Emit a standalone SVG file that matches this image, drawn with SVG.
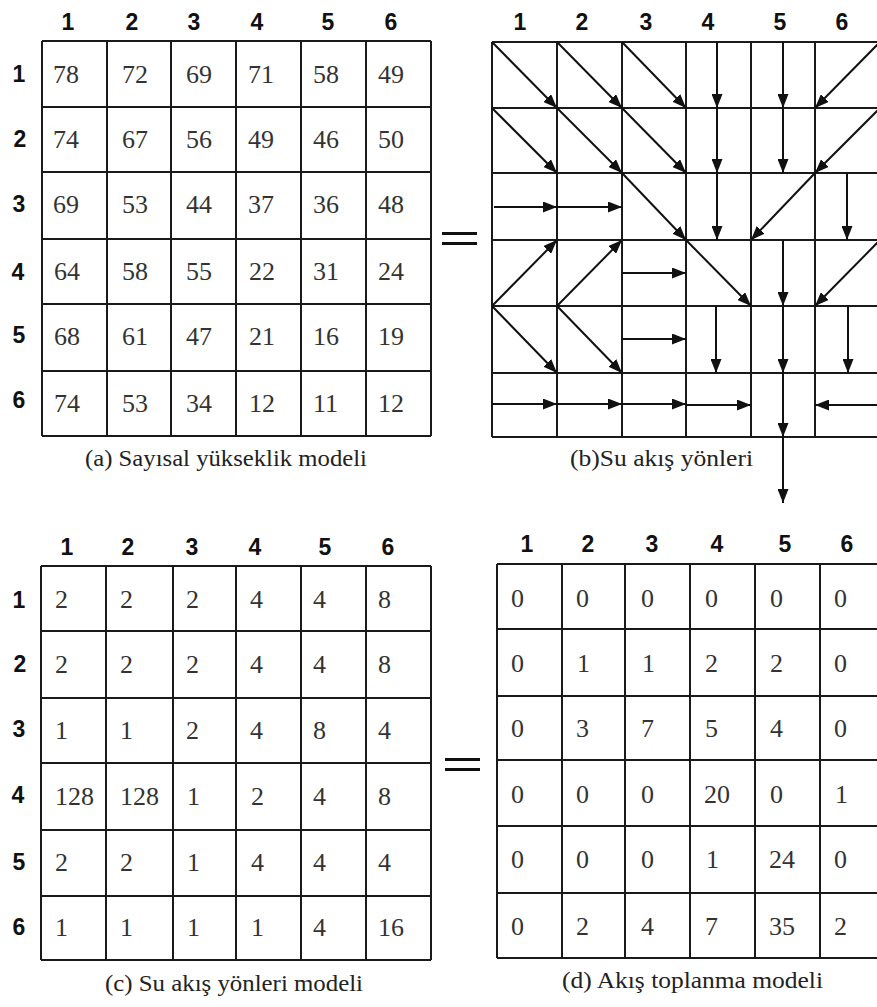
<svg xmlns="http://www.w3.org/2000/svg" width="877" height="1007" viewBox="0 0 877 1007">
<style>
.grid{fill:none;stroke:#1a1a1a;stroke-width:2}
.hdr{font-family:"Liberation Sans",Arial,sans-serif;font-weight:bold;font-size:23px;fill:#111;text-anchor:middle}
.num{font-family:"Liberation Serif","Times New Roman",serif;font-size:26px;fill:#333}
.cap{font-family:"Liberation Serif","Times New Roman",serif;font-size:23px;fill:#222}
.arr{stroke:#111;stroke-width:2;fill:none;marker-end:url(#ah)}
.eq{fill:#111}
</style>
<defs>
<marker id="ah" viewBox="0 0 14 11" refX="14" refY="5.5" markerWidth="14" markerHeight="11" markerUnits="userSpaceOnUse" orient="auto">
<path d="M0,0 L14,5.5 L0,11 z" fill="#111"/>
</marker>
</defs>
<rect width="877" height="1007" fill="#fff"/>

<!-- Panel (a) -->
<g id="panel-a">
<g class="hdr">
<text x="68" y="30">1</text><text x="132" y="30">2</text><text x="194" y="30">3</text><text x="257" y="30">4</text><text x="328" y="30">5</text><text x="391" y="30">6</text>
<text x="19" y="82">1</text><text x="20" y="147">2</text><text x="19" y="212">3</text><text x="18" y="280">4</text><text x="19" y="343">5</text><text x="19" y="408">6</text>
</g>
<path class="grid" d="M42,41H431M42,107H431M42,172H431M42,239H431M42,304H431M42,371H431M42,436H431M42,41V436M107,41V436M171,41V436M236,41V436M301,41V436M366,41V436M431,41V436"/>
<g class="num">
<text x="53" y="83">78</text><text x="122" y="83">72</text><text x="186" y="83">69</text><text x="248" y="83">71</text><text x="313" y="83">58</text><text x="378" y="83">49</text>
<text x="53" y="148">74</text><text x="122" y="148">67</text><text x="186" y="148">56</text><text x="248" y="148">49</text><text x="313" y="148">46</text><text x="378" y="148">50</text>
<text x="53" y="213">69</text><text x="122" y="213">53</text><text x="186" y="213">44</text><text x="248" y="213">37</text><text x="313" y="213">36</text><text x="378" y="213">48</text>
<text x="54" y="280">64</text><text x="122" y="280">58</text><text x="186" y="280">55</text><text x="249" y="280">22</text><text x="313" y="280">31</text><text x="378" y="280">24</text>
<text x="54" y="345">68</text><text x="122" y="345">61</text><text x="186" y="345">47</text><text x="249" y="345">21</text><text x="313" y="345">16</text><text x="378" y="345">19</text>
<text x="54" y="412">74</text><text x="122" y="412">53</text><text x="186" y="412">34</text><text x="249" y="412">12</text><text x="313" y="412">11</text><text x="378" y="412">12</text>
</g>
<text class="cap" x="85" y="466" textLength="282" lengthAdjust="spacingAndGlyphs">(a) Sayısal yükseklik modeli</text>
</g>

<g id="equals-top">
<rect class="eq" x="442" y="232" width="35" height="3"/>
<rect class="eq" x="442" y="242" width="35" height="3"/>
</g>

<!-- Panel (b) -->
<g id="panel-b">
<g class="hdr">
<text x="520" y="30">1</text><text x="582" y="30">2</text><text x="646" y="30">3</text><text x="708" y="30">4</text><text x="780" y="30">5</text><text x="842" y="30">6</text>
</g>
<path class="grid" d="M492,42H880M492,108H880M492,173H880M492,240H880M492,306H880M492,373H880M492,437H880M492,42V437M557,42V437M622,42V437M686,42V437M751,42V437M815,42V437M880,42V437"/>
<text class="cap" x="570" y="466" textLength="183" lengthAdjust="spacingAndGlyphs">(b)Su akış yönleri</text>
</g>

<g id="connectors">
<!-- row 1 -->
<line class="arr" x1="492" y1="42" x2="557" y2="108"/>
<line class="arr" x1="557" y1="42" x2="622" y2="108"/>
<line class="arr" x1="622" y1="42" x2="686" y2="108"/>
<line class="arr" x1="717" y1="42" x2="717" y2="108"/>
<line class="arr" x1="783" y1="42" x2="783" y2="108"/>
<line class="arr" x1="880" y1="42" x2="815" y2="108"/>
<!-- row 2 -->
<line class="arr" x1="492" y1="108" x2="557" y2="173"/>
<line class="arr" x1="557" y1="108" x2="622" y2="173"/>
<line class="arr" x1="622" y1="108" x2="686" y2="173"/>
<line class="arr" x1="717" y1="108" x2="717" y2="173"/>
<line class="arr" x1="783" y1="108" x2="783" y2="173"/>
<line class="arr" x1="880" y1="108" x2="815" y2="173"/>
<!-- row 3 -->
<line class="arr" x1="494" y1="207" x2="557" y2="207"/>
<line class="arr" x1="557" y1="207" x2="622" y2="207"/>
<line class="arr" x1="622" y1="173" x2="686" y2="240"/>
<line class="arr" x1="717" y1="173" x2="717" y2="240"/>
<line class="arr" x1="815" y1="173" x2="751" y2="240"/>
<line class="arr" x1="847" y1="173" x2="847" y2="240"/>
<!-- row 4 -->
<line class="arr" x1="492" y1="306" x2="557" y2="240"/>
<line class="arr" x1="557" y1="306" x2="622" y2="240"/>
<line class="arr" x1="622" y1="273" x2="686" y2="273"/>
<line class="arr" x1="686" y1="240" x2="751" y2="306"/>
<line class="arr" x1="783" y1="240" x2="783" y2="306"/>
<line class="arr" x1="880" y1="240" x2="815" y2="306"/>
<!-- row 5 -->
<line class="arr" x1="492" y1="306" x2="557" y2="373"/>
<line class="arr" x1="557" y1="306" x2="622" y2="373"/>
<line class="arr" x1="622" y1="339" x2="686" y2="339"/>
<line class="arr" x1="716" y1="306" x2="716" y2="373"/>
<line class="arr" x1="783" y1="306" x2="783" y2="373"/>
<line class="arr" x1="848" y1="306" x2="848" y2="373"/>
<!-- row 6 -->
<line class="arr" x1="492" y1="404" x2="557" y2="404"/>
<line class="arr" x1="557" y1="404" x2="622" y2="404"/>
<line class="arr" x1="622" y1="404" x2="686" y2="404"/>
<line class="arr" x1="686" y1="405" x2="751" y2="405"/>
<line class="arr" x1="783" y1="373" x2="783" y2="437"/>
<line class="arr" x1="880" y1="405" x2="815" y2="405"/>
<!-- outlet -->
<line class="arr" x1="783" y1="437" x2="783" y2="503"/>
</g>

<!-- Panel (c) -->
<g id="panel-c">
<g class="hdr">
<text x="67" y="555">1</text><text x="128" y="555">2</text><text x="192" y="555">3</text><text x="255" y="555">4</text><text x="325" y="555">5</text><text x="388" y="555">6</text>
<text x="19" y="608">1</text><text x="20" y="672">2</text><text x="19" y="737">3</text><text x="18" y="803">4</text><text x="19" y="870">5</text><text x="19" y="935">6</text>
</g>
<path class="grid" d="M41,566H431M41,631H431M41,698H431M41,763H431M41,830H431M41,896H431M41,960H431M41,566V960M106,566V960M173,566V960M236,566V960M301,566V960M366,566V960M431,566V960"/>
<g class="num">
<text x="55" y="608">2</text><text x="120" y="608">2</text><text x="186" y="608">2</text><text x="250" y="608">4</text><text x="313" y="608">4</text><text x="378" y="608">8</text>
<text x="55" y="673">2</text><text x="120" y="673">2</text><text x="186" y="673">2</text><text x="250" y="673">4</text><text x="313" y="673">4</text><text x="378" y="673">8</text>
<text x="55" y="739">1</text><text x="120" y="739">1</text><text x="186" y="739">2</text><text x="250" y="739">4</text><text x="313" y="739">8</text><text x="378" y="739">4</text>
<text x="55" y="805">128</text><text x="120" y="805">128</text><text x="187" y="805">1</text><text x="251" y="805">2</text><text x="313" y="805">4</text><text x="378" y="805">8</text>
<text x="55" y="871">2</text><text x="120" y="871">2</text><text x="187" y="871">1</text><text x="251" y="871">4</text><text x="313" y="871">4</text><text x="378" y="871">4</text>
<text x="55" y="936">1</text><text x="120" y="936">1</text><text x="187" y="936">1</text><text x="251" y="936">1</text><text x="313" y="936">4</text><text x="378" y="936">16</text>
</g>
<text class="cap" x="105" y="991" textLength="258" lengthAdjust="spacingAndGlyphs">(c) Su akış yönleri modeli</text>
</g>

<g id="equals-bottom">
<rect class="eq" x="445" y="758" width="35" height="3"/>
<rect class="eq" x="445" y="768" width="35" height="3"/>
</g>

<!-- Panel (d) -->
<g id="panel-d">
<g class="hdr">
<text x="527" y="552">1</text><text x="588" y="552">2</text><text x="652" y="552">3</text><text x="717" y="552">4</text><text x="785" y="552">5</text><text x="847" y="552">6</text>
</g>
<path class="grid" d="M497,564H884M497,629H884M497,696H884M497,760H884M497,826H884M497,893H884M497,958H884M497,564V958M562,564V958M625,564V958M690,564V958M755,564V958M820,564V958M884,564V958"/>
<g class="num">
<text x="511" y="607">0</text><text x="576" y="607">0</text><text x="641" y="607">0</text><text x="705" y="607">0</text><text x="770" y="607">0</text><text x="834" y="607">0</text>
<text x="511" y="672">0</text><text x="577" y="672">1</text><text x="642" y="672">1</text><text x="705" y="672">2</text><text x="770" y="672">2</text><text x="834" y="672">0</text>
<text x="511" y="737">0</text><text x="576" y="737">3</text><text x="641" y="737">7</text><text x="705" y="737">5</text><text x="770" y="737">4</text><text x="834" y="737">0</text>
<text x="511" y="803">0</text><text x="576" y="803">0</text><text x="641" y="803">0</text><text x="704" y="803">20</text><text x="770" y="803">0</text><text x="835" y="803">1</text>
<text x="511" y="868">0</text><text x="576" y="868">0</text><text x="641" y="868">0</text><text x="706" y="868">1</text><text x="769" y="868">24</text><text x="834" y="868">0</text>
<text x="511" y="935">0</text><text x="576" y="935">2</text><text x="641" y="935">4</text><text x="705" y="935">7</text><text x="769" y="935">35</text><text x="834" y="935">2</text>
</g>
<text class="cap" x="562" y="988" textLength="261" lengthAdjust="spacingAndGlyphs">(d) Akış toplanma modeli</text>
</g>
</svg>
